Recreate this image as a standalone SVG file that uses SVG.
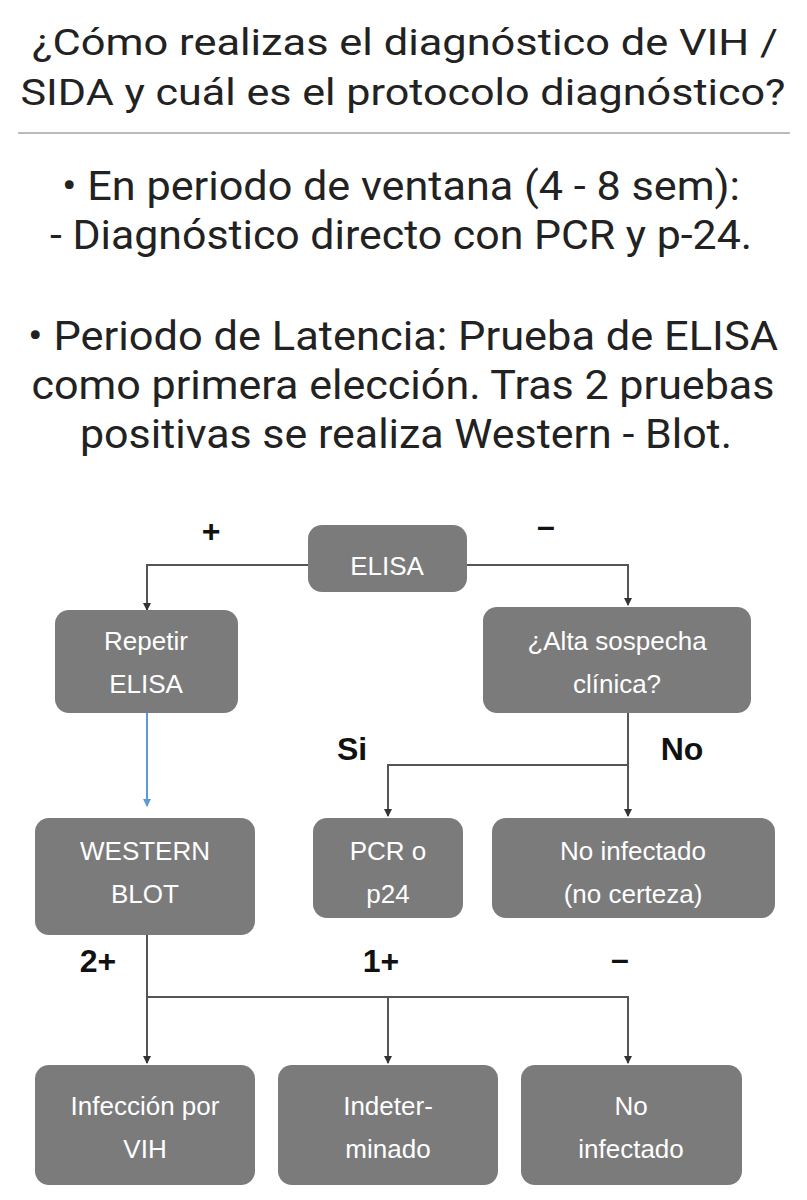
<svg xmlns="http://www.w3.org/2000/svg" width="807" height="1200" viewBox="0 0 807 1200">
<style>
.t{font-family:Roboto,"Liberation Sans",sans-serif;fill:#222;text-anchor:middle}
.h{font-size:37px}
.b{font-size:41px}
.n rect{fill:#7b7b7b;rx:14px}
.n text{font-family:"Liberation Sans Narrow","Liberation Sans",sans-serif;fill:#fff;font-size:26px;text-anchor:middle}
.l{font-family:"Liberation Sans",sans-serif;font-weight:bold;font-size:32px;fill:#111;text-anchor:middle}
.c path{fill:none;stroke:#555;stroke-width:2}
</style>
<defs><marker id="a" markerWidth="8" markerHeight="8" refX="4" refY="7" markerUnits="userSpaceOnUse" viewBox="0 0 8 8"><path d="M0,0 L8,0 L4,8z" fill="#333"/></marker>
<marker id="ab" markerWidth="8" markerHeight="8" refX="4" refY="7" markerUnits="userSpaceOnUse" viewBox="0 0 8 8"><path d="M0,0 L8,0 L4,8z" fill="#5b9bd5"/></marker></defs>
<rect width="807" height="1200" fill="#fff"/>
<text class="t h" x="405" y="55" textLength="746" lengthAdjust="spacingAndGlyphs">¿Cómo realizas el diagnóstico de VIH /</text>
<text class="t h" x="403" y="105" textLength="765" lengthAdjust="spacingAndGlyphs">SIDA y cuál es el protocolo diagnóstico?</text>
<line x1="18" y1="133" x2="790" y2="133" stroke="#bbb" stroke-width="2"/>
<text class="t b" x="401" y="200" textLength="678" lengthAdjust="spacingAndGlyphs">• En periodo de ventana (4 - 8 sem):</text>
<text class="t b" x="401" y="249" textLength="702" lengthAdjust="spacingAndGlyphs">- Diagnóstico directo con PCR y p-24.</text>
<text class="t b" x="403" y="350" textLength="750" lengthAdjust="spacingAndGlyphs">• Periodo de Latencia: Prueba de ELISA</text>
<text class="t b" x="403" y="399" textLength="743" lengthAdjust="spacingAndGlyphs">como primera elección. Tras 2 pruebas</text>
<text class="t b" x="406" y="448" textLength="652" lengthAdjust="spacingAndGlyphs">positivas se realiza Western - Blot.</text>
<g class="c">
<path d="M308,565 H147 V610" marker-end="url(#a)"/>
<path d="M467,565 H628 V605" marker-end="url(#a)"/>
<path d="M147,713 V806" style="stroke:#5b9bd5" marker-end="url(#ab)"/>
<path d="M628,713 V816" marker-end="url(#a)"/>
<path d="M628,765 H388 V816" marker-end="url(#a)"/>
<path d="M147,935 V1063" marker-end="url(#a)"/>
<path d="M147,997 H628 V1063" marker-end="url(#a)"/>
<path d="M388,997 V1063" marker-end="url(#a)"/>
</g>
<text class="l" x="211" y="542">+</text>
<text class="l" x="546" y="537">–</text>
<text class="l" x="352" y="760">Si</text>
<text class="l" x="682" y="760">No</text>
<text class="l" x="98" y="972">2+</text>
<text class="l" x="381" y="972">1+</text>
<text class="l" x="620" y="970">–</text>
<g class="n" id="elisa"><rect x="308" y="525" width="159" height="67"/><text x="387" y="575">ELISA</text></g>
<g class="n" id="repetir"><rect x="55" y="610" width="183" height="103"/><text x="146" y="650">Repetir</text><text x="146" y="693">ELISA</text></g>
<g class="n" id="alta"><rect x="483" y="607" width="268" height="106"/><text x="617" y="650">¿Alta sospecha</text><text x="617" y="693">clínica?</text></g>
<g class="n" id="western"><rect x="35" y="818" width="220" height="117"/><text x="145" y="860">WESTERN</text><text x="145" y="903">BLOT</text></g>
<g class="n" id="pcr"><rect x="313" y="818" width="150" height="100"/><text x="388" y="860">PCR o</text><text x="388" y="903">p24</text></g>
<g class="n" id="noinf1"><rect x="492" y="818" width="283" height="100"/><text x="633" y="860">No infectado</text><text x="633" y="903">(no certeza)</text></g>
<g class="n" id="vih"><rect x="35" y="1065" width="220" height="120"/><text x="145" y="1115">Infección por</text><text x="145" y="1158">VIH</text></g>
<g class="n" id="indet"><rect x="278" y="1065" width="220" height="120"/><text x="388" y="1115">Indeter-</text><text x="388" y="1158">minado</text></g>
<g class="n" id="noinf2"><rect x="521" y="1065" width="221" height="120"/><text x="631" y="1115">No</text><text x="631" y="1158">infectado</text></g>
</svg>
